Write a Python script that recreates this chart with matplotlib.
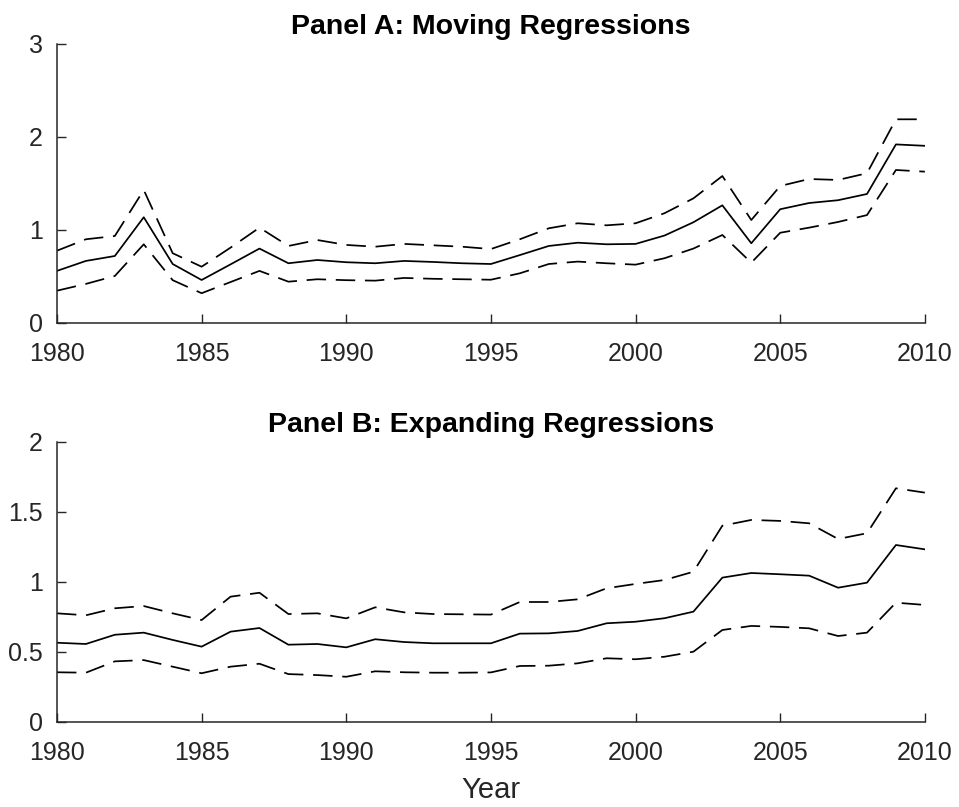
import matplotlib as mpl
mpl.use("Agg")
import matplotlib.pyplot as plt
from matplotlib.ticker import FuncFormatter

AX = "#262626"
mpl.rcParams.update({
    "font.family": ["Liberation Sans", "DejaVu Sans"],
    "font.size": 18,
    "lines.scale_dashes": False,
    "xtick.direction": "in",
    "ytick.direction": "in",
    "xtick.color": AX,
    "ytick.color": AX,
    "axes.edgecolor": AX,
    "axes.labelcolor": AX,
})

years = list(range(1980, 2011))

# Panel A: moving-window estimates with upper/lower bands
moving_est = [0.56, 0.667, 0.72, 1.137, 0.634, 0.462, 0.63, 0.80, 0.642, 0.677,
              0.653, 0.642, 0.667, 0.656, 0.642, 0.634, 0.73, 0.828, 0.863, 0.846,
              0.85, 0.94, 1.083, 1.265, 0.857, 1.223, 1.29, 1.32, 1.387, 1.92, 1.905]
moving_hi = [0.777, 0.90, 0.935, 1.43, 0.75, 0.605, 0.81, 1.025, 0.828, 0.892,
             0.839, 0.82, 0.85, 0.835, 0.82, 0.795, 0.90, 1.018, 1.072, 1.05,
             1.072, 1.18, 1.34, 1.58, 1.107, 1.473, 1.548, 1.538, 1.61, 2.19, 2.19]
moving_lo = [0.347, 0.42, 0.505, 0.846, 0.46, 0.32, 0.44, 0.56, 0.444, 0.47,
             0.46, 0.455, 0.484, 0.475, 0.47, 0.465, 0.534, 0.634, 0.66, 0.642,
             0.627, 0.696, 0.80, 0.946, 0.648, 0.97, 1.025, 1.086, 1.16, 1.645, 1.627]

# Panel B: expanding-window estimates with upper/lower bands
expand_est = [0.564, 0.555, 0.621, 0.636, 0.584, 0.536, 0.643, 0.669, 0.55, 0.555,
              0.531, 0.589, 0.569, 0.56, 0.56, 0.56, 0.629, 0.631, 0.648, 0.703,
              0.714, 0.739, 0.786, 1.029, 1.062, 1.053, 1.043, 0.957, 0.993, 1.262, 1.231]
expand_hi = [0.774, 0.76, 0.81, 0.826, 0.774, 0.726, 0.893, 0.921, 0.769, 0.774,
             0.738, 0.817, 0.781, 0.769, 0.767, 0.765, 0.855, 0.855, 0.874, 0.953,
             0.984, 1.012, 1.071, 1.40, 1.441, 1.434, 1.417, 1.305, 1.346, 1.667, 1.636]
expand_lo = [0.353, 0.35, 0.431, 0.44, 0.393, 0.346, 0.393, 0.414, 0.34, 0.333,
             0.321, 0.36, 0.353, 0.35, 0.35, 0.352, 0.398, 0.40, 0.417, 0.453,
             0.446, 0.464, 0.50, 0.655, 0.684, 0.677, 0.667, 0.612, 0.636, 0.85, 0.834]

xticks = [1980, 1985, 1990, 1995, 2000, 2005, 2010]

fig = plt.figure(figsize=(9.59, 8.07), dpi=100)
axA = fig.add_axes([0.0594, 0.5998, 0.905, 0.3457])
axB = fig.add_axes([0.0594, 0.1057, 0.905, 0.347])

def draw(ax, est, hi, lo, ymax, yticks, title):
    ax.plot(years, est, color="black", lw=1.25)
    ax.plot(years, hi, color="black", lw=1.25, dashes=(14, 7))
    ax.plot(years, lo, color="black", lw=1.25, dashes=(14, 7))
    ax.set_xlim(1980, 2010)
    ax.set_ylim(0, ymax)
    ax.set_xticks(xticks)
    ax.set_yticks(yticks)
    ax.yaxis.set_major_formatter(FuncFormatter(lambda v, p: "%g" % v))
    ax.tick_params(length=6.5, width=1, labelsize=18)
    ax.tick_params(axis="x", pad=14)
    ax.tick_params(axis="y", pad=10)
    for s in ("top", "right"):
        ax.spines[s].set_visible(False)
    for s in ("left", "bottom"):
        ax.spines[s].set_linewidth(1.1)
    ax.set_title(title, fontsize=20.5, fontweight="bold", pad=7, color="black")

draw(axA, moving_est, moving_hi, moving_lo, 3, [0, 1, 2, 3], "Panel A: Moving Regressions")
draw(axB, expand_est, expand_hi, expand_lo, 2, [0, 0.5, 1, 1.5, 2], "Panel B: Expanding Regressions")
axB.set_xlabel("Year", fontsize=21, labelpad=8)

fig.savefig("out.png", dpi=100)
